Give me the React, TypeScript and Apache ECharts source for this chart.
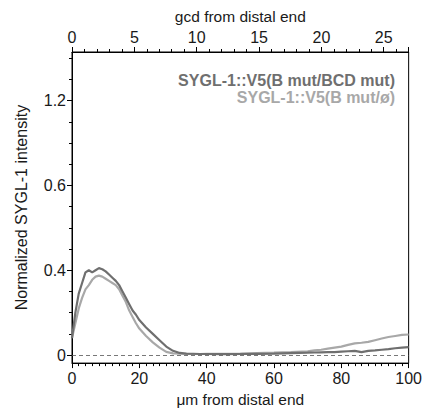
import React, { useEffect, useRef } from "react";
import * as echarts from "echarts";

const xs = [0,1,2,3,4,5,6,7,8,9,10,11,12,13,14,15,16,17,18,19,20,22,24,26,28,30,32,34,36,38,40,45,50,55,60,65,70,72,74,76,78,80,82,84,86,88,90,92,94,96,98,100];
const darkSeries = [0.08,0.2,0.29,0.34,0.39,0.4,0.39,0.4,0.41,0.405,0.395,0.38,0.365,0.35,0.33,0.3,0.27,0.24,0.21,0.19,0.165,0.13,0.1,0.07,0.04,0.02,0.01,0.007,0.006,0.005,0.005,0.004,0.005,0.006,0.007,0.009,0.011,0.012,0.013,0.014,0.014,0.016,0.018,0.02,0.014,0.02,0.022,0.025,0.028,0.032,0.035,0.037];
const lightSeries = [0.08,0.15,0.22,0.27,0.31,0.33,0.355,0.37,0.375,0.37,0.36,0.35,0.34,0.33,0.31,0.28,0.25,0.21,0.18,0.15,0.125,0.09,0.06,0.035,0.015,0.008,0.006,0.005,0.005,0.005,0.006,0.006,0.007,0.009,0.011,0.014,0.018,0.022,0.025,0.03,0.035,0.04,0.048,0.055,0.058,0.062,0.07,0.078,0.085,0.09,0.095,0.097];
const seriesNames = ["SYGL-1::V5(B mut/BCD mut)", "SYGL-1::V5(B mut/ø)"];
const yTickValues = [0, 0.4, 0.8, 1.2];
const yTickLabels = ["0", "0.4", "0.6", "1.2"];
const yMinorValues = [0.1,0.2,0.3,0.5,0.6,0.7,0.9,1.0,1.1,1.3,1.4];

const FONT = "'Liberation Sans', Arial, sans-serif";
const DARK = "#6f6f6f";
const LIGHT = "#a8a8a8";

export default function App() {
  const ref = useRef<HTMLDivElement>(null);
  useEffect(() => {
    document.body.style.margin = "0";
    const chart = echarts.init(ref.current!, null, { renderer: "svg" });
    const axisCommon = {
      axisLine: { show: true, onZero: false, lineStyle: { color: "#000", width: 1 } },
      axisTick: { show: true, length: 5, lineStyle: { color: "#000" } },
      minorTick: { show: true, length: 3, lineStyle: { color: "#000" } },
      splitLine: { show: false },
      axisLabel: { color: "#1a1a1a", fontSize: 16, fontFamily: FONT },
      nameTextStyle: { color: "#1a1a1a", fontSize: 15.5, fontFamily: FONT },
    };
    chart.setOption({
      animation: false,
      backgroundColor: "#fff",
      grid: { left: 72, right: 13, top: 52, bottom: 48, show: true, borderColor: "#000", borderWidth: 1 },
      xAxis: [
        {
          ...axisCommon,
          type: "value",
          position: "bottom",
          min: 0,
          max: 100,
          interval: 20,
          minorTick: { ...axisCommon.minorTick, splitNumber: 10 },
          axisLabel: { ...axisCommon.axisLabel, margin: 7 },
          name: "μm from distal end",
          nameLocation: "middle",
          nameGap: 26,
        },
        {
          ...axisCommon,
          type: "value",
          position: "top",
          min: 0,
          max: 27,
          interval: 5,
          minorTick: { ...axisCommon.minorTick, splitNumber: 5 },
          axisLabel: { ...axisCommon.axisLabel, showMaxLabel: false, margin: 7 },
          name: "gcd from distal end",
          nameLocation: "middle",
          nameGap: 28,
        },
      ],
      yAxis: [
        {
          ...axisCommon,
          type: "value",
          min: -0.038,
          max: 1.43,
          minorTick: { show: false },
          axisTick: { ...axisCommon.axisTick, customValues: yTickValues },
          axisLabel: {
            ...axisCommon.axisLabel,
            margin: 6,
            customValues: yTickValues,
            formatter: (v: number) => {
              const i = yTickValues.findIndex((t) => Math.abs(t - v) < 1e-6);
              return i >= 0 ? yTickLabels[i] : "";
            },
          },
          name: "Normalized SYGL-1 intensity",
          nameLocation: "middle",
          nameGap: 43,
          nameTextStyle: { ...axisCommon.nameTextStyle, fontSize: 16 },
        },
        {
          type: "value",
          position: "left",
          min: -0.038,
          max: 1.43,
          axisLine: { show: false, onZero: false },
          axisLabel: { show: false },
          splitLine: { show: false },
          axisTick: { show: true, length: 3, lineStyle: { color: "#000" }, customValues: yMinorValues },
        },
      ],
      series: [
        {
          name: seriesNames[0],
          type: "line",
          xAxisIndex: 0,
          yAxisIndex: 0,
          data: xs.map((x, i) => [x, darkSeries[i]]),
          showSymbol: false,
          lineStyle: { color: DARK, width: 2.2 },
          z: 3,
          markLine: {
            silent: true,
            symbol: "none",
            label: { show: false },
            lineStyle: { color: "#555", type: [4, 3], width: 0.8 },
            data: [{ yAxis: 0 }],
          },
        },
        {
          name: seriesNames[1],
          type: "line",
          xAxisIndex: 0,
          yAxisIndex: 0,
          data: xs.map((x, i) => [x, lightSeries[i]]),
          showSymbol: false,
          lineStyle: { color: LIGHT, width: 2.2 },
          z: 2,
        },
      ],
      graphic: [
        {
          type: "text",
          right: 30,
          top: 72,
          style: { text: seriesNames[0], fill: DARK, font: `bold 16px ${FONT}`, textAlign: "right" },
        },
        {
          type: "text",
          right: 30,
          top: 89,
          style: { text: seriesNames[1], fill: LIGHT, font: `bold 16px ${FONT}`, textAlign: "right" },
        },
      ],
    });
    return () => chart.dispose();
  }, []);
  return <div ref={ref} style={{ width: 425, height: 412 }} />;
}
